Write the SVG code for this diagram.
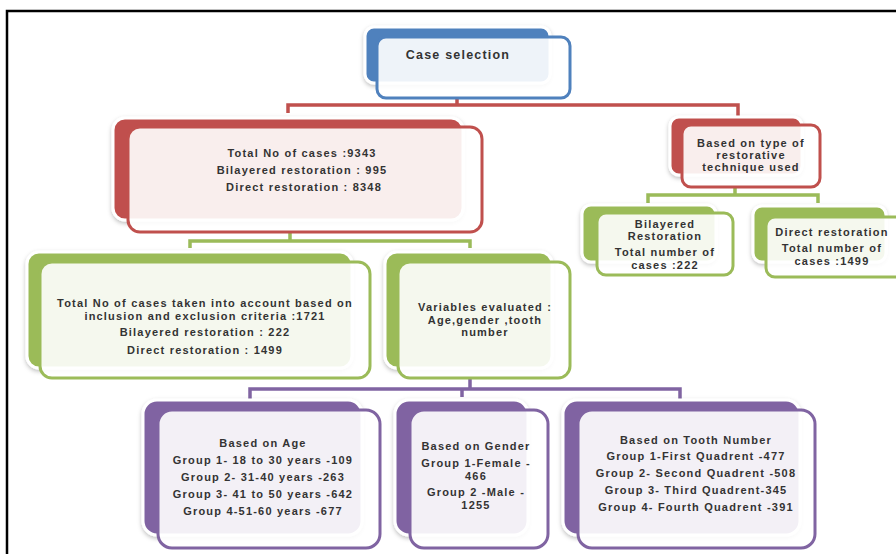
<svg xmlns="http://www.w3.org/2000/svg" width="896" height="554" viewBox="0 0 896 554">
<defs>
<filter id="sh" x="-10%" y="-10%" width="120%" height="130%">
<feDropShadow dx="0" dy="2" stdDeviation="2" flood-color="#000" flood-opacity="0.25"/>
</filter>
</defs>
<style>
.back{stroke:#fff;stroke-width:3;filter:url(#sh)}
.front{fill:#fff;fill-opacity:0.9;stroke-width:3}
.blue .back{fill:#4F81BD}.blue .front{stroke:#4F81BD}
.red .back{fill:#C0504D}.red .front{stroke:#C0504D}
.green .back{fill:#9BBB59}.green .front{stroke:#9BBB59}
.purple .back{fill:#8064A2}.purple .front{stroke:#8064A2}
text{font-family:"Liberation Sans",Arial,sans-serif;font-weight:bold;font-size:11px;letter-spacing:1.2px;fill:#333;text-anchor:middle}
.conn path{fill:none;stroke-width:3.5}
</style>
<rect x="0" y="0" width="896" height="554" fill="#fff"/>
<path d="M7,554 V11 H896" fill="none" stroke="#000" stroke-width="2.5"/>
<g id="connectors" class="conn">
<path d="M457,98 V105 M288,113 V105 H738 V117" stroke="#C0504D"/>
<path d="M290,232 V241 M190,248 V241 H470 V248" stroke="#9BBB59"/>
<path d="M735,187 V195 M648,203 V195 H818 V203" stroke="#9BBB59"/>
<path d="M470,378 V389 M250,400 V389 H680 V400 M462,389 V397" stroke="#8064A2"/>
</g>
<g id="case-selection" class="blue">
<rect class="back" x="365" y="27" width="185" height="56" rx="9"/>
<rect class="front" x="377" y="37" width="193" height="61" rx="9"/>
<text x="458" y="59" style="font-size:12.5px">Case selection</text>
</g>
<g id="total-cases" class="red">
<rect class="back" x="113" y="118" width="350" height="102" rx="12"/>
<rect class="front" x="128" y="127" width="354" height="105" rx="12"/>
<text x="302" y="157">Total No of cases :9343</text>
<text x="302" y="174">Bilayered restoration : 995</text>
<text x="304" y="191">Direct restoration  : 8348</text>
</g>
<g id="technique" class="red">
<rect class="back" x="670" y="117" width="132" height="58" rx="9"/>
<rect class="front" x="682" y="125" width="138" height="62" rx="9"/>
<text x="751" y="147">Based on type of</text>
<text x="751" y="159">restorative</text>
<text x="751" y="171">technique used</text>
</g>
<g id="bilayered" class="green">
<rect class="back" x="582" y="205" width="134" height="57" rx="9"/>
<rect class="front" x="597" y="213" width="136" height="62" rx="9"/>
<text x="665" y="228">Bilayered</text>
<text x="665" y="240">Restoration</text>
<text x="665" y="256">Total number of</text>
<text x="665" y="269">cases :222</text>
</g>
<g id="direct" class="green">
<rect class="back" x="753" y="206" width="133" height="56" rx="9"/>
<rect class="front" x="766" y="217" width="140" height="60" rx="9"/>
<text x="832" y="236">Direct restoration</text>
<text x="832" y="252">Total number of</text>
<text x="832" y="265">cases :1499</text>
</g>
<g id="included" class="green">
<rect class="back" x="27" y="252" width="325" height="116" rx="12"/>
<rect class="front" x="40" y="262" width="330" height="116" rx="12"/>
<text x="205" y="307">Total No of cases  taken into account based on</text>
<text x="205" y="320">inclusion and exclusion criteria :1721</text>
<text x="205" y="336">Bilayered restoration : 222</text>
<text x="205" y="354">Direct restoration : 1499</text>
</g>
<g id="variables" class="green">
<rect class="back" x="385" y="252" width="167" height="116" rx="12"/>
<rect class="front" x="398" y="262" width="172" height="116" rx="12"/>
<text x="485" y="311">Variables evaluated :</text>
<text x="485" y="324">Age,gender ,tooth</text>
<text x="485" y="336">number</text>
</g>
<g id="age" class="purple">
<rect class="back" x="143" y="400" width="219" height="135" rx="14"/>
<rect class="front" x="158" y="410" width="222" height="138" rx="14"/>
<text x="263" y="447">Based on Age</text>
<text x="263" y="464">Group 1- 18 to 30 years  -109</text>
<text x="263" y="481">Group 2- 31-40 years -263</text>
<text x="263" y="498">Group 3- 41 to 50 years -642</text>
<text x="263" y="515">Group 4-51-60 years -677</text>
</g>
<g id="gender" class="purple">
<rect class="back" x="395" y="400" width="133" height="135" rx="14"/>
<rect class="front" x="410" y="410" width="138" height="138" rx="14"/>
<text x="476" y="450">Based on Gender</text>
<text x="476" y="467">Group 1-Female -</text>
<text x="476" y="480">466</text>
<text x="476" y="496">Group 2 -Male -</text>
<text x="476" y="509">1255</text>
</g>
<g id="tooth" class="purple">
<rect class="back" x="563" y="400" width="237" height="135" rx="14"/>
<rect class="front" x="578" y="410" width="237" height="138" rx="14"/>
<text x="696" y="444">Based on Tooth Number</text>
<text x="696" y="460">Group 1-First Quadrent -477</text>
<text x="696" y="477">Group 2- Second Quadrent -508</text>
<text x="696" y="494">Group 3- Third Quadrent-345</text>
<text x="696" y="511">Group 4- Fourth Quadrent -391</text>
</g>
</svg>
